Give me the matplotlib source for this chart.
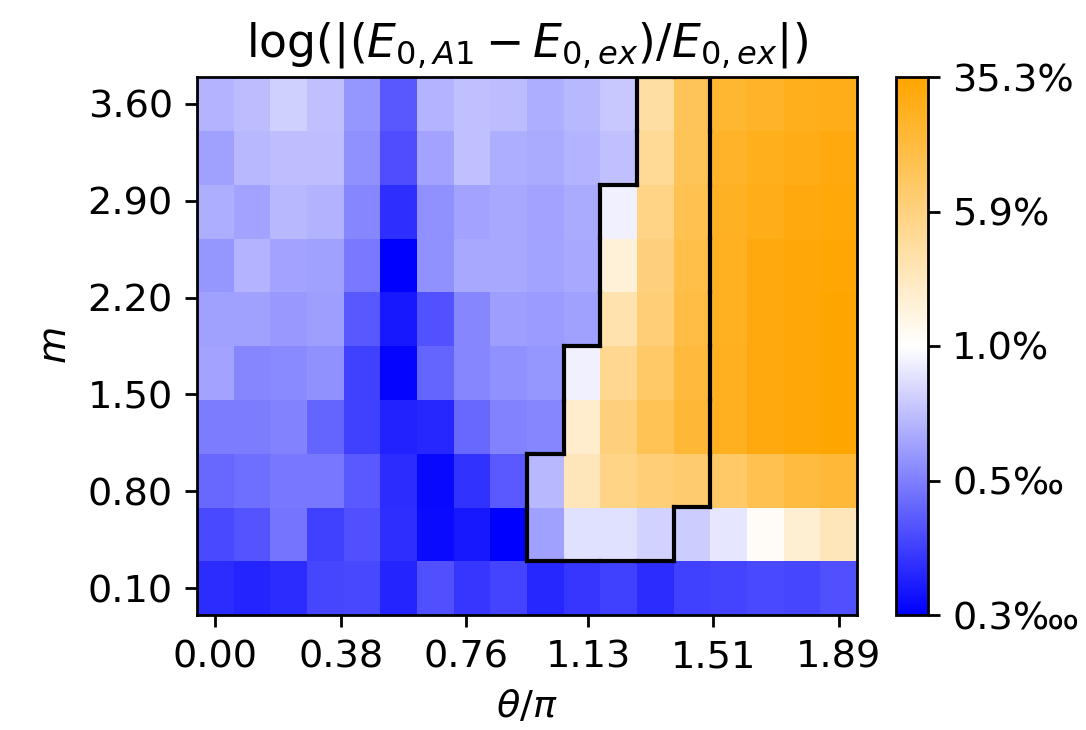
import numpy as np
import matplotlib
matplotlib.use("Agg")
import matplotlib.pyplot as plt
from matplotlib.colors import LinearSegmentedColormap, TwoSlopeNorm
from matplotlib.collections import LineCollection

plt.rcParams['font.size'] = 11

# grid
theta_pi = [0.00, 0.11, 0.22, 0.33, 0.44, 0.56, 0.67, 0.78, 0.89,
            1.00, 1.11, 1.22, 1.33, 1.44, 1.56, 1.67, 1.78, 1.89]
m_vals = [0.10, 0.49, 0.88, 1.27, 1.66, 2.04, 2.43, 2.82, 3.21, 3.60]

# log10 of relative error, rows from m=0.10 (bottom) to m=3.60 (top)
log_err = [
    [-4.08, -4.15, -4.08, -3.83, -3.81, -4.15, -3.73, -3.98, -3.85, -4.13, -3.98, -3.88, -4.08, -3.88, -3.85, -3.78, -3.83, -3.73],
    [-3.78, -3.68, -3.36, -3.88, -3.73, -4.05, -4.42, -4.28, -4.52, -2.94, -2.30, -2.30, -2.45, -2.50, -2.25, -1.94, -1.73, -1.58],
    [-3.48, -3.43, -3.34, -3.34, -3.63, -4.08, -4.44, -4.03, -3.63, -2.69, -1.58, -1.27, -1.18, -1.12, -1.09, -0.94, -0.85, -0.80],
    [-3.29, -3.29, -3.24, -3.53, -3.88, -4.18, -4.13, -3.48, -3.24, -3.19, -1.70, -1.21, -0.97, -0.79, -0.65, -0.54, -0.50, -0.46],
    [-2.89, -3.19, -3.16, -3.09, -3.88, -4.47, -3.53, -3.19, -3.09, -3.04, -2.15, -1.33, -1.09, -0.83, -0.65, -0.54, -0.50, -0.45],
    [-2.94, -2.94, -3.02, -2.96, -3.65, -4.28, -3.71, -3.19, -2.96, -2.99, -2.94, -1.51, -1.18, -0.88, -0.66, -0.54, -0.50, -0.46],
    [-3.04, -2.74, -2.89, -2.94, -3.32, -4.52, -3.09, -2.86, -2.86, -2.92, -2.86, -1.76, -1.21, -0.91, -0.66, -0.54, -0.51, -0.48],
    [-2.79, -2.89, -2.69, -2.76, -3.19, -4.05, -3.09, -2.89, -2.86, -2.89, -2.84, -2.15, -1.27, -0.94, -0.68, -0.60, -0.54, -0.52],
    [-2.94, -2.69, -2.64, -2.64, -3.09, -3.75, -2.89, -2.62, -2.79, -2.84, -2.74, -2.62, -1.36, -0.99, -0.70, -0.63, -0.59, -0.54],
    [-2.74, -2.66, -2.47, -2.62, -3.04, -3.65, -2.74, -2.62, -2.66, -2.79, -2.69, -2.54, -1.45, -1.00, -0.76, -0.71, -0.63, -0.60],
]

# region outlined in black (1 = inside), same row order
region = [
    [0, 0, 0, 0, 0, 0, 0, 0, 0, 0, 0, 0, 0, 0, 0, 0, 0, 0],
    [0, 0, 0, 0, 0, 0, 0, 0, 0, 1, 1, 1, 1, 0, 0, 0, 0, 0],
    [0, 0, 0, 0, 0, 0, 0, 0, 0, 1, 1, 1, 1, 1, 0, 0, 0, 0],
    [0, 0, 0, 0, 0, 0, 0, 0, 0, 0, 1, 1, 1, 1, 0, 0, 0, 0],
    [0, 0, 0, 0, 0, 0, 0, 0, 0, 0, 1, 1, 1, 1, 0, 0, 0, 0],
    [0, 0, 0, 0, 0, 0, 0, 0, 0, 0, 0, 1, 1, 1, 0, 0, 0, 0],
    [0, 0, 0, 0, 0, 0, 0, 0, 0, 0, 0, 1, 1, 1, 0, 0, 0, 0],
    [0, 0, 0, 0, 0, 0, 0, 0, 0, 0, 0, 1, 1, 1, 0, 0, 0, 0],
    [0, 0, 0, 0, 0, 0, 0, 0, 0, 0, 0, 0, 1, 1, 0, 0, 0, 0],
    [0, 0, 0, 0, 0, 0, 0, 0, 0, 0, 0, 0, 1, 1, 0, 0, 0, 0],
]

x_tick_labels = ['0.00', '0.38', '0.76', '1.13', '1.51', '1.89']
y_tick_labels = ['0.10', '0.80', '1.50', '2.20', '2.90', '3.60']

err_min, err_mid, err_max = 3.0e-5, 0.01, 0.353
cbar_labels = ['0.3\u2031', '0.5\u2030', '1.0%', '5.9%', '35.3%']

Z = np.array(log_err)
mask = np.array(region, dtype=bool)
dx = (theta_pi[-1] - theta_pi[0]) / (len(theta_pi) - 1)
dy = (m_vals[-1] - m_vals[0]) / (len(m_vals) - 1)
x0 = theta_pi[0] - dx / 2
y0 = m_vals[0] - dy / 2

fig = plt.figure(figsize=(1086 / 250, 730 / 250), dpi=250)
ax = fig.add_axes([197 / 1086, 1 - 615 / 730, 660 / 1086, 538 / 730])
cax = fig.add_axes([896 / 1086, 1 - 615 / 730, 32 / 1086, 538 / 730])

cmap = LinearSegmentedColormap.from_list('bwo', ['blue', 'white', 'orange'])
lo, mid, hi = np.log10(err_min), np.log10(err_mid), np.log10(err_max)
norm = TwoSlopeNorm(vmin=lo, vcenter=mid, vmax=hi)

im = ax.imshow(Z, origin='lower', cmap=cmap, norm=norm, aspect='auto',
               interpolation='nearest',
               extent=[x0, x0 + dx * Z.shape[1], y0, y0 + dy * Z.shape[0]])

# outline of the marked region along cell edges
segs = []
nr, nc = mask.shape
for r in range(nr):
    for c in range(nc):
        if not mask[r, c]:
            continue
        xl, xr = x0 + c * dx, x0 + (c + 1) * dx
        yb, yt = y0 + r * dy, y0 + (r + 1) * dy
        if c == 0 or not mask[r, c - 1]:
            segs.append([(xl, yb), (xl, yt)])
        if c == nc - 1 or not mask[r, c + 1]:
            segs.append([(xr, yb), (xr, yt)])
        if r == 0 or not mask[r - 1, c]:
            segs.append([(xl, yb), (xr, yb)])
        if r == nr - 1 or not mask[r + 1, c]:
            segs.append([(xl, yt), (xr, yt)])
ax.add_collection(LineCollection(segs, colors='black', linewidths=1.2,
                                 capstyle='projecting'))

ax.set_xticks([float(t) for t in x_tick_labels])
ax.set_xticklabels(x_tick_labels)
ax.set_yticks([float(t) for t in y_tick_labels])
ax.set_yticklabels(y_tick_labels)
ax.set_xlabel(r'$\theta/\pi$')
ax.set_ylabel(r'$m$')
ax.set_title(r'$\log(|(E_{0,A1}-E_{0,ex})/E_{0,ex}|)$', fontsize=13.2)

cbar = fig.colorbar(im, cax=cax)
cbar.set_ticks([lo, (lo + mid) / 2, mid, (mid + hi) / 2, hi])
cbar.set_ticklabels(cbar_labels)
cbar.ax.minorticks_off()

fig.savefig('out.png', dpi=250)
